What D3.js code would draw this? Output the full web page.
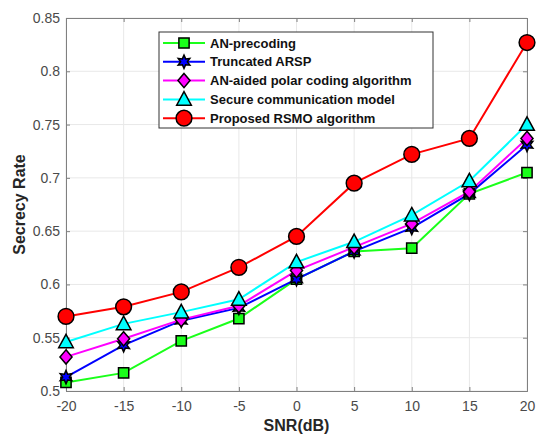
<!DOCTYPE html>
<html>
<head>
<meta charset="utf-8">
<script src="https://cdn.jsdelivr.net/npm/d3@7"></script>
<style>
body { margin: 0; background: #fff; }
text { font-family: "Liberation Sans", Arial, sans-serif; }
</style>
</head>
<body>
<div id="chart"></div>
<script>
width = 537;
height = 441;
margins = {left: 66, right: 10, top: 18, bottom: 50};

var snr = [-20, -15, -10, -5, 0, 5, 10, 15, 20];
var xTicks = [-20, -15, -10, -5, 0, 5, 10, 15, 20];
var yTicks = [0.5, 0.55, 0.6, 0.65, 0.7, 0.75, 0.8, 0.85];
var seriesNames = ["AN-precoding", "Truncated ARSP", "AN-aided polar coding algorithm", "Secure communication model", "Proposed RSMO algorithm"];
var anPrecoding = [0.508, 0.517, 0.547, 0.568, 0.605, 0.631, 0.634, 0.685, 0.705];
var truncatedArsp = [0.513, 0.543, 0.566, 0.578, 0.605, 0.631, 0.653, 0.685, 0.731];
var anAidedPolar = [0.532, 0.549, 0.567, 0.580, 0.613, 0.635, 0.657, 0.687, 0.737];
var secureModel = [0.546, 0.563, 0.574, 0.586, 0.621, 0.640, 0.665, 0.697, 0.750];
var proposedRsmo = [0.570, 0.579, 0.593, 0.616, 0.645, 0.695, 0.722, 0.737, 0.827];

// custom marker shapes (MATLAB-ish)
var hexagram = {
    draw: function(ctx, size) {
        var r = Math.sqrt(size) * 0.75, ri = r * 0.5;
        for (var i = 0; i < 12; i++) {
            var a = -Math.PI / 2 + i * Math.PI / 6;
            var rr = i % 2 == 0 ? r : ri;
            if (i == 0) ctx.moveTo(rr * Math.cos(a), rr * Math.sin(a));
            else ctx.lineTo(rr * Math.cos(a), rr * Math.sin(a));
        }
        ctx.closePath();
    }
};
var diamond = {
    draw: function(ctx, size) {
        var h = Math.sqrt(size) * 0.6, w = h * 0.85;
        ctx.moveTo(0, -h); ctx.lineTo(w, 0); ctx.lineTo(0, h); ctx.lineTo(-w, 0); ctx.closePath();
    }
};
var triangle = {
    draw: function(ctx, size) {
        var h = Math.sqrt(size) * 0.6, w = h * 0.95;
        ctx.moveTo(0, -h); ctx.lineTo(w, h * 0.75); ctx.lineTo(-w, h * 0.75); ctx.closePath();
    }
};

var series = [
    {name: seriesNames[0], values: anPrecoding, color: "#1aff1a", shape: d3.symbolSquare, size: 105},
    {name: seriesNames[1], values: truncatedArsp, color: "#0000ff", shape: hexagram, size: 80},
    {name: seriesNames[2], values: anAidedPolar, color: "#ff00ff", shape: diamond, size: 140},
    {name: seriesNames[3], values: secureModel, color: "#00ffff", shape: triangle, size: 165},
    {name: seriesNames[4], values: proposedRsmo, color: "#ff0000", shape: d3.symbolCircle, size: 195}
];

var xScale = d3.scaleLinear().domain([-20, 20]).range([margins.left, width - margins.right]);
var yScale = d3.scaleLinear().domain([0.5, 0.85]).range([height - margins.bottom, margins.top]);

var svg = d3.select("#chart").append("svg")
    .attr("width", width)
    .attr("height", height);

// grid
svg.append("g").selectAll("line").data(xTicks).enter().append("line")
    .attr("x1", d => xScale(d)).attr("x2", d => xScale(d))
    .attr("y1", yScale(0.5)).attr("y2", yScale(0.85))
    .attr("stroke", "#e8e8e8").attr("stroke-width", 1);
svg.append("g").selectAll("line").data(yTicks).enter().append("line")
    .attr("x1", xScale(-20)).attr("x2", xScale(20))
    .attr("y1", d => yScale(d)).attr("y2", d => yScale(d))
    .attr("stroke", "#e8e8e8").attr("stroke-width", 1);

// axes, ticks inward
var xAxis = d3.axisBottom(xScale).tickValues(xTicks).tickSize(-4).tickPadding(10).tickFormat(d => String(d));
var yAxis = d3.axisLeft(yScale).tickValues(yTicks).tickSize(-4).tickPadding(6).tickFormat(d => String(d));
var xTop = d3.axisTop(xScale).tickValues(xTicks).tickSize(-4).tickFormat("");
var yRight = d3.axisRight(yScale).tickValues(yTicks).tickSize(-4).tickFormat("");

function styleAxis(g) {
    g.select(".domain").attr("stroke", "#808080");
    g.selectAll(".tick line").attr("stroke", "#808080");
    g.selectAll(".tick text").attr("fill", "#4a4a4a").attr("font-size", 14);
}

svg.append("g").attr("transform", "translate(0," + yScale(0.5) + ")").call(xAxis).call(styleAxis);
svg.append("g").attr("transform", "translate(" + xScale(-20) + ",0)").call(yAxis).call(styleAxis);
svg.append("g").attr("transform", "translate(0," + yScale(0.85) + ")").call(xTop).call(styleAxis);
svg.append("g").attr("transform", "translate(" + xScale(20) + ",0)").call(yRight).call(styleAxis);

// lines
var line = d3.line().x((d, i) => xScale(snr[i])).y(d => yScale(d));
series.forEach(function(s) {
    svg.append("path")
        .datum(s.values)
        .attr("fill", "none")
        .attr("stroke", s.color)
        .attr("stroke-width", 2)
        .attr("d", line);
});
series.forEach(function(s) {
    svg.append("g").selectAll("path").data(s.values).enter().append("path")
        .attr("d", d3.symbol().type(s.shape).size(s.size))
        .attr("transform", (d, i) => "translate(" + xScale(snr[i]) + "," + yScale(d) + ")")
        .attr("fill", s.color)
        .attr("stroke", "#000")
        .attr("stroke-width", 1.5);
});

// legend
var legend = svg.append("g");
legend.append("rect")
    .attr("x", 159).attr("y", 32).attr("width", 274).attr("height", 96)
    .attr("fill", "#fff").attr("stroke", "#333").attr("stroke-width", 1);
series.forEach(function(s, i) {
    var ly = 43 + i * 18.8;
    legend.append("line")
        .attr("x1", 163).attr("x2", 205).attr("y1", ly).attr("y2", ly)
        .attr("stroke", s.color).attr("stroke-width", 2);
    legend.append("path")
        .attr("d", d3.symbol().type(s.shape).size(s.size))
        .attr("transform", "translate(184," + ly + ")")
        .attr("fill", s.color).attr("stroke", "#000").attr("stroke-width", 1.5);
    legend.append("text")
        .attr("x", 210).attr("y", ly + 4.5)
        .attr("font-size", 13).attr("font-weight", "bold").attr("fill", "#111")
        .text(s.name);
});

// axis labels
svg.append("text")
    .attr("x", xScale(0)).attr("y", 431)
    .attr("text-anchor", "middle").attr("font-size", 16).attr("font-weight", "bold").attr("fill", "#262626")
    .text("SNR(dB)");
svg.append("text")
    .attr("transform", "translate(25," + yScale(0.675) + ") rotate(-90)")
    .attr("text-anchor", "middle").attr("font-size", 16).attr("font-weight", "bold").attr("fill", "#262626")
    .text("Secrecy Rate");
</script>
</body>
</html>
